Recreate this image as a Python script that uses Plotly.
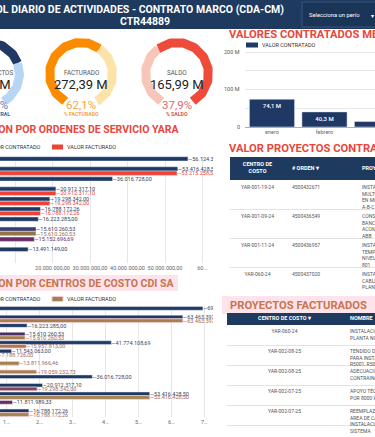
import numpy as np
import plotly.graph_objects as go

W, H = 375, 437
FONT = "Roboto"

# ---------------- data ----------------
kpi_names = ["PROYECTOS", "FACTURADO", "SALDO"]
kpi_values = ["438,38 M", "272,39 M", "165,99 M"]
kpi_pct = [73.3, 62.1, 37.9]
kpi_pct_text = ["73,3%", "62,1%", "37,9%"]
kpi_pct_names = ["% AVANCE GENERAL", "% FACTURADO", "% SALDO"]

os_orders = ["4500432671", "4500436549", "4500436957", "4500437020", "4500437188",
             "4500437305", "4500437412", "4500437560", "4500437633", "4500437790"]
os_contratado = [56124310.00, 53416428.50, 36016728.00, 20912317.10, 19298342.00,
                 16788172.26, 16223285.00, 15610260.53, 15152696.69, 13491149.00]
os_facturado = [None, 53215258.50, None, 20912317.10, 19298342.00,
                16788172.26, None, 15610260.53, None, None]

cc_centros = ["YAR-001-19-24", "YAR-001-09-24", "YAR-001-11-24", "YAR-060-24", "YAR-002-08-25",
              "YAR-002-07-25", "YAR-002-06-25", "YAR-002-05-25", "YAR-002-04-25", "YAR-002-03-25",
              "YAR-002-02-25", "YAR-002-01-25", "YAR-001-12-24"]
cc_contratado = [69548224.25, 63463392.48, 16223285.00, 15610260.53, 41774108.69, 11543063.00,
                 None, None, 36016728.00, 20912317.10, 53416428.50, 11811989.33, 16788172.26]
cc_facturado = [None, 63463392.48, None, 15610260.53, 15957813.00, 7188726.00,
                13811966.46, 19059232.73, None, 19298342.00, 53416428.50, None, 16788172.26]

meses = ["enero", "febrero", "marzo"]
mes_contratado = [74.1e6, 40.3e6, 14.5e6]
mes_labels = ["74,1 M", "40,3 M", "14,5 M"]
mes_ticks = [0, 100e6, 200e6]
mes_ticktext = ["0", "100 M", "200 M"]
mes_minor = [50e6, 150e6]

t1_header = ["CENTRO DE<br>COSTO", "# ORDEN ▾", "PROYECTO"]
t1_centro = ["YAR-001-19-24", "YAR-001-09-24", "YAR-001-11-24", "YAR-060-24", "YAR-002-01-25"]
t1_orden = ["4500432671", "4500436549", "4500436957", "4500437020", "4500437188"]
t1_proyecto = ["INSTALACIÓN DE<br>MULTIMEDIDORES<br>EN MOTORES<br>A-B-C",
               "CONSTRUCCIÓN<br>BANCODUCTOS<br>ACOMPAÑAMIENTO<br>ABB",
               "INSTALACIÓN<br>TEMPERATURA<br>NIVEL TK<br>801",
               "INSTALACIÓN<br>CABLEADO<br>PLANTA NITRATOS",
               "INSTALACIÓN<br>BOMBAS"]

t2_header = ["CENTRO DE COSTO ▾", "NOMBRE"]
t2_centro = ["YAR-060-24", "YAR-002-08-25", "YAR-002-08-25", "YAR-002-07-25", "YAR-002-07-25"]
t2_nombre = ["INSTALACIÓN<br>PLANTA NITRATOS",
             "TENDIDO DE<br>PARA INSTALACIÓN<br>R5001, R5002",
             "ADECUACIÓN<br>CONTRAINCENDIO",
             "APOYO TÉCNICO<br>POR 8000 K",
             "REEMPLAZO<br>AREA DE CALDERAS<br>INSTALACIÓN<br>SISTEMA"]

# ---------------- styles ----------------
NAVY = "#203864"
RED = "#ef4136"
TAN = "#a3814f"
PURPLE = "#6a2b62"
HEADER = "#1e3a5f"


def px_x(x):
    return x / W


def px_y(y):
    return 1 - y / H


def es_num(v):
    s = f"{v:,.2f}"
    return s.replace(",", "_").replace(".", ",").replace("_", ".")


def lab(vals):
    return ["—" + es_num(v) if v is not None else "" for v in vals]


fig = go.Figure()

# ---- chart 1: ordenes de servicio ----
c1_cols = [NAVY] * 7 + ["#3c3b6e", PURPLE, NAVY]
f1_cols = [RED] * 7 + ["#927447", RED, RED]
fig.add_trace(go.Bar(y=os_orders, x=os_contratado, orientation="h", name="VALOR CONTRATADO",
                     marker=dict(color=c1_cols), text=lab(os_contratado), textposition="outside",
                     textfont=dict(size=5.5, color=["#34405e"] * 7 + ["#3c3b6e", PURPLE, "#34405e"]),
                     constraintext="none", cliponaxis=True, xaxis="x", yaxis="y"))
fig.add_trace(go.Bar(y=os_orders, x=os_facturado, orientation="h", name="VALOR FACTURADO",
                     marker=dict(color=f1_cols), text=lab(os_facturado), textposition="outside",
                     textfont=dict(size=5.5, color=[RED] * 7 + ["#927447", RED, RED]),
                     constraintext="none", cliponaxis=True, xaxis="x", yaxis="y"))

# ---- chart 2: centros de costo ----
c2_cols = [NAVY, NAVY, NAVY, "#4a2f63", NAVY, NAVY, NAVY, NAVY, NAVY, NAVY, NAVY, PURPLE, NAVY]
f2_cols = [TAN, TAN, TAN, TAN, TAN, PURPLE, TAN, TAN, TAN, "#7a4a5a", TAN, TAN, TAN]
fig.add_trace(go.Bar(y=cc_centros, x=cc_contratado, orientation="h", name="VALOR CONTRATADO",
                     marker=dict(color=c2_cols), text=lab(cc_contratado), textposition="outside",
                     textfont=dict(size=5.5, color="#3a4660"),
                     constraintext="none", cliponaxis=True, xaxis="x2", yaxis="y2"))
fig.add_trace(go.Bar(y=cc_centros, x=cc_facturado, orientation="h", name="VALOR FACTURADO",
                     marker=dict(color=f2_cols, line=dict(color="#f7c6d0", width=0.8)),
                     text=lab(cc_facturado), textposition="outside",
                     textfont=dict(size=5.5, color="#a0665e"),
                     constraintext="none", cliponaxis=True, xaxis="x2", yaxis="y2"))

# ---- chart 3: valores contratados mensuales ----
fig.add_trace(go.Bar(x=meses, y=mes_contratado, name="VALOR CONTRATADO", marker=dict(color=NAVY),
                     text=mes_labels, textposition="auto", insidetextanchor="end",
                     insidetextfont=dict(size=6, color="white", family=FONT + " Medium"),
                     outsidetextfont=dict(size=5.5, color="#666"),
                     constraintext="none", cliponaxis=False, xaxis="x3", yaxis="y3"))

# ---- gauges ----
g_cx = [-12, 81, 177]
g_cy = 74
g_r = 31.5
g_main = [NAVY, "#fb8c00", "#f8c6b9"]
g_rest = ["#b7d6f3", "#fde3a7", "#ee4b3a"]
for cx, p, c1, c2 in zip(g_cx, kpi_pct, g_main, g_rest):
    a_end = 240 - 300 * p / 100
    for a0, a1, col in [(240, a_end, c1), (a_end, -60, c2)]:
        th = np.radians(np.linspace(a0, a1, 90))
        fig.add_trace(go.Scatter(x=cx + g_r * np.cos(th), y=g_cy - g_r * np.sin(th), mode="lines",
                                 line=dict(color=col, width=9), hoverinfo="skip",
                                 xaxis="x4", yaxis="y4"))

# ---- tables (text drawn on their own axes: x in px across the table, y in px down from its top) ----
T_FONT = dict(size=5, color="#555", family=FONT)
H_FONT = dict(size=5.5, color="white", family=FONT)

t1_widths = [55, 70, 20]
t1_head_h, t1_row_h = 23, 29
t1_edges = np.concatenate([[0], np.cumsum(t1_widths)])
t1_rows_top = [t1_head_h + t1_row_h * i for i in range(len(t1_centro))]
t1_cols = [(t1_centro, "center"), (t1_orden, "left"), (t1_proyecto, "left")]
for j, (vals, al) in enumerate(t1_cols):
    x = (t1_edges[j] + t1_edges[j + 1]) / 2 if al == "center" else t1_edges[j] + 7
    fig.add_trace(go.Scatter(x=[x] * len(vals), y=[t + 5.5 for t in t1_rows_top], text=vals, mode="text",
                             textposition="bottom center" if al == "center" else "bottom right",
                             textfont=T_FONT, hoverinfo="skip", xaxis="x5", yaxis="y5"))
    fig.add_trace(go.Scatter(x=[x], y=[t1_head_h / 2], text=["<b>%s</b>" % t1_header[j]], mode="text",
                             textposition="middle center" if al == "center" else "middle right",
                             textfont=H_FONT, hoverinfo="skip", xaxis="x5", yaxis="y5"))

t2_widths = [115, 33]
t2_head_h, t2_row_h = 12, 20
t2_edges = np.concatenate([[0], np.cumsum(t2_widths)])
t2_rows_top = [t2_head_h + t2_row_h * i for i in range(len(t2_centro))]
t2_cols = [(t2_centro, "center"), (t2_nombre, "left")]
for j, (vals, al) in enumerate(t2_cols):
    x = (t2_edges[j] + t2_edges[j + 1]) / 2 if al == "center" else t2_edges[j] + 8
    fig.add_trace(go.Scatter(x=[x] * len(vals), y=[t + 4.5 for t in t2_rows_top], text=vals, mode="text",
                             textposition="bottom center" if al == "center" else "bottom right",
                             textfont=T_FONT, hoverinfo="skip", xaxis="x6", yaxis="y6"))
    fig.add_trace(go.Scatter(x=[x], y=[t2_head_h / 2], text=["<b>%s</b>" % t2_header[j]], mode="text",
                             textposition="middle center" if al == "center" else "middle right",
                             textfont=H_FONT, hoverinfo="skip", xaxis="x6", yaxis="y6"))

# ---------------- layout ----------------
tick_font = dict(size=5.5, color="#666", family=FONT)
hidden = dict(showticklabels=False, zeroline=False, ticks="", fixedrange=True)
fig.update_layout(
    width=W, height=H, margin=dict(l=0, r=0, t=0, b=0),
    paper_bgcolor="white", plot_bgcolor="rgba(0,0,0,0)",
    showlegend=False, barmode="group", bargap=0.14, bargroupgap=0,
    font=dict(family=FONT, color="#333"),
    xaxis=dict(domain=[0, px_x(213)], anchor="y", range=[6e6, 62.8e6],
               tickvals=[10e6, 20e6, 30e6, 40e6, 50e6, 60e6],
               ticktext=["10.000.000,00", "20.000.000,00", "30.000.000,00", "40.000.000,00",
                         "50.000.000,00", "60..."],
               tickfont=tick_font, tickangle=0, showgrid=True, gridcolor="#e6e6e6", gridwidth=0.6,
               zeroline=False, ticks="", fixedrange=True),
    yaxis=dict(domain=[px_y(263), px_y(156)], anchor="x", range=[10.15, -0.5],
               showticklabels=False, showgrid=False, zeroline=False, fixedrange=True),
    xaxis2=dict(domain=[0, px_x(213)], anchor="y2", range=[8.03e6, 72.6e6],
                tickvals=[10e6, 20e6, 30e6, 40e6, 50e6, 60e6, 70e6],
                ticktext=["1…", "2…", "3…", "4…", "5…", "6…", "7…"],
                tickfont=tick_font, tickangle=0, showgrid=True, gridcolor="#e6e6e6", gridwidth=0.6,
                zeroline=False, ticks="", fixedrange=True),
    yaxis2=dict(domain=[px_y(417), px_y(306)], anchor="x2", range=[12.5, -0.5],
                showticklabels=False, showgrid=False, zeroline=False, fixedrange=True),
    xaxis3=dict(domain=[px_x(245), 1], anchor="y3", type="category", range=[-0.514, 1.962],
                tickfont=tick_font, showgrid=False, ticks="", fixedrange=True),
    yaxis3=dict(domain=[px_y(127), px_y(49)], anchor="x3", range=[0, 208e6],
                tickmode="array", tickvals=mes_ticks, showticklabels=False,
                minor=dict(tickmode="array", tickvals=mes_minor, showgrid=True,
                           gridcolor="#e8e8e8", gridwidth=0.6),
                showgrid=True, gridcolor="#e8e8e8", gridwidth=0.6,
                zeroline=True, zerolinecolor="#b0b0b0", zerolinewidth=0.8, ticks="", fixedrange=True),
    xaxis4=dict(domain=[0, px_x(222)], anchor="y4", range=[0, 222], visible=False, fixedrange=True),
    yaxis4=dict(domain=[px_y(118), px_y(30)], anchor="x4", range=[118, 30], visible=False,
                fixedrange=True),
    xaxis5=dict(domain=[px_x(230), 1], anchor="y5", range=[0, sum(t1_widths)], showgrid=False, **hidden),
    yaxis5=dict(domain=[px_y(297), px_y(157)], anchor="x5", range=[140, 0],
                tickvals=[t1_head_h + t1_row_h * (i + 1) for i in range(len(t1_centro))],
                showgrid=True, gridcolor="#e2e2e2", gridwidth=0.7, **hidden),
    xaxis6=dict(domain=[px_x(227), 1], anchor="y6", range=[0, sum(t2_widths)], showgrid=False, **hidden),
    yaxis6=dict(domain=[0, px_y(313)], anchor="x6", range=[124, 0],
                tickvals=[t2_head_h + t2_row_h * (i + 1) for i in range(len(t2_centro))],
                showgrid=True, gridcolor="#e2e2e2", gridwidth=0.7, **hidden),
)

shapes = [
    dict(type="rect", xref="paper", yref="paper", x0=0, x1=1, y0=px_y(29), y1=1,
         fillcolor=HEADER, line=dict(width=0), layer="below"),
    dict(type="rect", xref="paper", yref="paper", x0=px_x(302), x1=px_x(380), y0=px_y(27), y1=px_y(2),
         fillcolor="#1b3559", line=dict(color="#36577f", width=1), layer="below"),
    dict(type="rect", xref="paper", yref="paper", x0=0, x1=px_x(178), y0=px_y(291), y1=px_y(275),
         fillcolor="#fde3ea", line=dict(width=0), layer="below"),
    dict(type="rect", xref="paper", yref="paper", x0=px_x(222), x1=1, y0=px_y(314), y1=px_y(296),
         fillcolor="#fde3ea", line=dict(width=0), layer="below"),
    # table header bands
    dict(type="rect", xref="x5", yref="y5", x0=0, x1=sum(t1_widths), y0=0, y1=t1_head_h,
         fillcolor=HEADER, line=dict(width=0), layer="below"),
    dict(type="rect", xref="x6", yref="y6", x0=0, x1=sum(t2_widths), y0=0, y1=t2_head_h,
         fillcolor=HEADER, line=dict(width=0), layer="below"),
    # legend swatches
    dict(type="rect", xref="paper", yref="paper", x0=px_x(52), x1=px_x(63), y0=px_y(149.5), y1=px_y(144.5),
         fillcolor=RED, line=dict(width=0)),
    dict(type="rect", xref="paper", yref="paper", x0=px_x(52), x1=px_x(63), y0=px_y(301.5), y1=px_y(296.5),
         fillcolor=TAN, line=dict(color="#f7c6d0", width=1)),
    dict(type="rect", xref="paper", yref="paper", x0=px_x(246), x1=px_x(258), y0=px_y(47.5), y1=px_y(42.5),
         fillcolor=NAVY, line=dict(width=0)),
]
fig.update_layout(shapes=shapes)

ann = []


def pa(text, x, y, size, color, xanchor="center", bold=False):
    ann.append(dict(text=("<b>%s</b>" % text) if bold else text, x=px_x(x), y=px_y(y),
                    xref="paper", yref="paper", xanchor=xanchor, yanchor="middle", showarrow=False,
                    font=dict(size=size, color=color, family=FONT)))


# header
pa("CONTROL DIARIO DE ACTIVIDADES - CONTRATO MARCO (CDA-CM)", 286, 9, 10.5, "white", "right", True)
pa("CTR44889", 145, 22, 10.5, "white", "center", True)
pa("Selecciona un perío", 334, 15, 5.8, "white", "center")
pa("▾", 372, 15, 6, "white", "center")

# titles
pa("DISTRIBUCION POR ORDENES DE SERVICIO YARA", 182, 129, 10.5, "#e8473c", "right", True)
pa("DISTRIBUCION POR CENTROS DE COSTO CDI SA", 176, 283, 10.5, "#c8744f", "right", True)
pa("VALORES CONTRATADOS MENSUALES", 227, 35, 11.2, "#e8473c", "left", True)
pa("VALOR PROYECTOS CONTRATADOS", 227, 148, 11.2, "#e8473c", "left", True)
pa("PROYECTOS FACTURADOS", 228, 305, 11.2, "#c8744f", "left", True)

# legends
pa("VALOR CONTRATADO", 43, 147, 5.5, "#333", "right")
pa("VALOR FACTURADO", 65, 147, 5.5, "#333", "left")
pa("VALOR CONTRATADO", 43, 299, 5.5, "#333", "right")
pa("VALOR FACTURADO", 65, 299, 5.5, "#333", "left")
pa("VALOR CONTRATADO", 260, 45, 5.5, "#333", "left")

# y tick labels of the monthly chart, placed on its own y scale
for v, t in zip(mes_ticks, mes_ticktext):
    ann.append(dict(text=t, x=px_x(242), y=v, xref="paper", yref="y3", showarrow=False,
                    xanchor="right", yanchor="middle", font=dict(size=5.5, color="#555", family=FONT)))

# marzo tick (partially visible)
ann.append(dict(text="marzo", x=2, y=px_y(133.5), xref="x3", yref="paper", showarrow=False,
                xanchor="center", yanchor="middle", font=dict(size=5.5, color="#666", family=FONT)))

# gauge texts (gauge axis in pixel units)
pct_cols = ["#5b7db1", "#f5a442", "#e26a6a"]
sub_cols = ["#3d5f94", "#f0a63d", "#d9534f"]
for i, cx in enumerate(g_cx):
    anc = "center"
    xs = [cx, cx, cx, cx]
    if i == 0:
        anc = "right"
        xs = [15, 13, 10, 12]
    for txt, x, y, s, c, b in [(kpi_names[i], xs[0], 73, 6.3, "#555", False),
                               (kpi_values[i], xs[1], 84, 13, "#222", False),
                               (kpi_pct_text[i], xs[2], 104.5, 11.5, pct_cols[i], False),
                               (kpi_pct_names[i], xs[3], 113.5, 5.2, sub_cols[i], True)]:
        ann.append(dict(text=("<b>%s</b>" % txt) if b else txt, x=x, y=y, xref="x4", yref="y4",
                        xanchor=anc, yanchor="middle", showarrow=False,
                        font=dict(size=s, color=c, family=FONT)))

fig.update_layout(annotations=ann)
fig.write_html("out.html", config={"displayModeBar": False},
               post_script="document.body.style.margin='0px';")
